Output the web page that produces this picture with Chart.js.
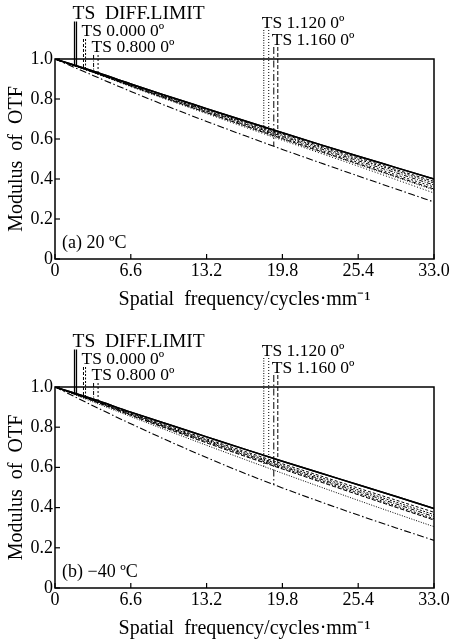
<!DOCTYPE html>
<html><head><meta charset="utf-8">
<script src="https://cdn.jsdelivr.net/npm/chart.js@4.4.1/dist/chart.umd.min.js"></script>
<style>
html,body{margin:0;padding:0;background:#fff;width:454px;height:639px;overflow:hidden}
#wa{position:absolute;left:0;top:0;width:454px;height:328px}
#wb{position:absolute;left:0;top:328px;width:454px;height:311px}
canvas{display:block}
</style></head><body>
<div id="wa"><canvas id="ca" width="454" height="328"></canvas></div>
<div id="wb"><canvas id="cb" width="454" height="311"></canvas></div>
<script>
// ---- data ----
const frequencies = [0, 3.3, 6.6, 9.9, 13.2, 16.5, 19.8, 23.1, 26.4, 29.7, 33];
const xTickValues = [0, 6.6, 13.2, 19.8, 26.4, 33];
const xTickLabels = ["0", "6.6", "13.2", "19.8", "25.4", "33.0"];
const yTickValues = [0, 0.2, 0.4, 0.6, 0.8, 1.0];
const yTickLabels = ["0", "0.2", "0.4", "0.6", "0.8", "1.0"];
const fieldLabels = ["TS  DIFF.LIMIT", "TS 0.000 0º", "TS 0.800 0º", "TS 1.120 0º", "TS 1.160 0º"];
const seriesNames = ["DIFF T", "DIFF S", "0.000 T", "0.000 S", "0.800 T", "0.800 S", "1.120 T", "1.120 S", "1.160 T", "1.160 S"];
const markerFreqs = [1.70, 1.87, 2.48, 2.66, 3.36, 3.75, 18.18, 18.61, 19.05, 19.40];
const panelA = "(a) 20 ºC";
const panelB = "(b) −40 ºC";

// (a) 20 ºC
const a_diffT = [1, 0.94, 0.875, 0.813, 0.752, 0.691, 0.631, 0.572, 0.514, 0.457, 0.40];
const a_diffS = [1, 0.94, 0.875, 0.813, 0.752, 0.691, 0.631, 0.572, 0.514, 0.457, 0.40];
const a_f0T   = [1, 0.938, 0.873, 0.81, 0.748, 0.686, 0.625, 0.565, 0.506, 0.447, 0.388];
const a_f0S   = [1, 0.937, 0.871, 0.807, 0.744, 0.681, 0.619, 0.559, 0.499, 0.44, 0.38];
const a_f08T  = [1, 0.936, 0.869, 0.804, 0.74, 0.676, 0.613, 0.552, 0.491, 0.431, 0.37];
const a_f08S  = [1, 0.935, 0.867, 0.801, 0.736, 0.671, 0.607, 0.545, 0.483, 0.421, 0.36];
const a_f112T = [1, 0.934, 0.864, 0.797, 0.731, 0.665, 0.6, 0.536, 0.473, 0.409, 0.345];
const a_f112S = [1, 0.933, 0.862, 0.794, 0.727, 0.66, 0.594, 0.529, 0.464, 0.397, 0.33];
const a_f116T = [1, 0.918, 0.838, 0.761, 0.688, 0.617, 0.548, 0.481, 0.415, 0.35, 0.285];
const a_f116S = [1, 0.934, 0.865, 0.798, 0.732, 0.667, 0.602, 0.539, 0.476, 0.413, 0.35];

// (b) -40 ºC
const b_diffT = [1, 0.94, 0.875, 0.813, 0.752, 0.691, 0.631, 0.572, 0.514, 0.455, 0.395];
const b_diffS = [1, 0.94, 0.875, 0.813, 0.752, 0.691, 0.631, 0.572, 0.514, 0.455, 0.395];
const b_f0T   = [1, 0.937, 0.87, 0.805, 0.742, 0.68, 0.618, 0.558, 0.497, 0.437, 0.377];
const b_f0S   = [1, 0.935, 0.868, 0.80, 0.737, 0.673, 0.61, 0.55, 0.488, 0.427, 0.365];
const b_f08T  = [1, 0.934, 0.865, 0.797, 0.732, 0.667, 0.604, 0.542, 0.48, 0.418, 0.355];
const b_f08S  = [1, 0.933, 0.862, 0.794, 0.728, 0.662, 0.598, 0.536, 0.472, 0.409, 0.345];
const b_f112T = [1, 0.926, 0.853, 0.781, 0.71, 0.64, 0.571, 0.503, 0.436, 0.37, 0.305];
const b_f112S = [1, 0.932, 0.86, 0.791, 0.724, 0.658, 0.594, 0.531, 0.467, 0.404, 0.34];
const b_f116T = [1, 0.907, 0.817, 0.731, 0.649, 0.571, 0.498, 0.429, 0.363, 0.299, 0.237];
const b_f116S = [1, 0.931, 0.859, 0.79, 0.722, 0.656, 0.592, 0.528, 0.464, 0.401, 0.338];

// ---- styles ----
const lineStyles = [
  {dash: [], w: 1.5}, {dash: [], w: 1.5},
  {dash: [3, 2], w: 1}, {dash: [2, 1.5], w: 1},
  {dash: [4, 1.5, 1, 1.5], w: 1}, {dash: [2, 2], w: 1},
  {dash: [1, 1.5], w: 1}, {dash: [1, 2], w: 1},
  {dash: [7, 2.5, 1.5, 2.5], w: 1.1}, {dash: [4, 2], w: 1}
];
const legendBaseline = [19, 36, 51.5, 27.5, 45];
const legendLineTop = [21.5, 39, 55, 30, 47];
const legendFontSize = [19.5, 17.5, 17.5, 17.5, 17.5];
const SERIF = "'Liberation Serif', 'Times New Roman', serif";

function interp(arr, f) {
  for (let i = 0; i < frequencies.length - 1; i++) {
    if (f >= frequencies[i] && f <= frequencies[i + 1]) {
      const t = (f - frequencies[i]) / (frequencies[i + 1] - frequencies[i]);
      return arr[i] + t * (arr[i + 1] - arr[i]);
    }
  }
  return arr[arr.length - 1];
}

const otfPlugin = {
  id: 'otf',
  afterDraw(chart, args, opts) {
    const ctx = chart.ctx, ca = chart.chartArea, xs = chart.scales.x, ys = chart.scales.y;
    ctx.save();
    ctx.strokeStyle = '#000';
    ctx.fillStyle = '#000';
    ctx.lineWidth = 1.2;
    xTickValues.forEach(v => {
      const px = xs.getPixelForValue(v);
      ctx.beginPath(); ctx.moveTo(px, ca.bottom); ctx.lineTo(px, ca.bottom - 5); ctx.stroke();
    });
    yTickValues.forEach(v => {
      const py = ys.getPixelForValue(v);
      ctx.beginPath(); ctx.moveTo(ca.left, py); ctx.lineTo(ca.left + 5, py); ctx.stroke();
    });
    ctx.lineWidth = 1.5;
    ctx.strokeRect(ca.left, ca.top, ca.right - ca.left, ca.bottom - ca.top);
    // legend marker lines
    chart.data.datasets.forEach((ds, i) => {
      const f = markerFreqs[i];
      const px = xs.getPixelForValue(f);
      const py = ys.getPixelForValue(interp(opts.series[i], f));
      const field = Math.floor(i / 2);
      ctx.setLineDash(lineStyles[i].dash);
      ctx.lineWidth = field === 0 ? 1.3 : 1;
      ctx.beginPath(); ctx.moveTo(px, legendLineTop[field]); ctx.lineTo(px, py); ctx.stroke();
    });
    ctx.setLineDash([]);
    ctx.textBaseline = 'alphabetic';
    ctx.textAlign = 'left';
    fieldLabels.forEach((t, k) => {
      ctx.font = legendFontSize[k] + 'px ' + SERIF;
      ctx.fillText(t, xs.getPixelForValue(markerFreqs[2 * k]) - 2, legendBaseline[k]);
    });
    ctx.font = '18px ' + SERIF;
    ctx.fillText(opts.panel, ca.left + 7, ca.bottom - 11.5);
    ctx.restore();
  }
};

function makeChart(id, series, panel, xHeight, xTitlePad) {
  const datasets = series.map((arr, i) => ({
    label: seriesNames[i],
    data: frequencies.map((f, j) => ({x: f, y: arr[j]})),
    borderColor: '#000',
    borderWidth: lineStyles[i].w,
    borderDash: lineStyles[i].dash,
    pointRadius: 0,
    fill: false,
    cubicInterpolationMode: 'monotone'
  }));
  return new Chart(document.getElementById(id), {
    type: 'line',
    data: {datasets},
    plugins: [otfPlugin],
    options: {
      responsive: false,
      animation: false,
      events: [],
      layout: {padding: {top: 59, right: 20, left: 0, bottom: 0}},
      plugins: {
        legend: {display: false},
        tooltip: {enabled: false},
        otf: {series, panel}
      },
      scales: {
        x: {
          type: 'linear', min: 0, max: 33,
          grid: {display: false, drawTicks: false}, border: {display: false},
          afterBuildTicks: s => { s.ticks = xTickValues.map(v => ({value: v})); },
          afterFit: s => { s.height = xHeight; },
          ticks: {
            autoSkip: false, maxRotation: 0, padding: 1, color: '#000',
            font: {family: SERIF, size: 18},
            callback: (v, i) => xTickLabels[i]
          },
          title: {
            display: true, text: 'Spatial  frequency/cycles·mm⁻¹', color: '#000',
            font: {family: SERIF, size: 20}, padding: {top: 0, bottom: xTitlePad}
          }
        },
        y: {
          type: 'linear', min: 0, max: 1,
          grid: {display: false, drawTicks: false}, border: {display: false},
          afterBuildTicks: s => { s.ticks = yTickValues.map(v => ({value: v})); },
          afterFit: s => { s.width = 55; },
          ticks: {
            padding: 2, color: '#000',
            font: {family: SERIF, size: 18},
            callback: (v, i) => yTickLabels[i]
          },
          title: {
            display: true, text: 'Modulus  of  OTF', color: '#000',
            font: {family: SERIF, size: 20}, padding: {top: 4.5, bottom: 0}
          }
        }
      }
    }
  });
}

makeChart('ca', [a_diffT, a_diffS, a_f0T, a_f0S, a_f08T, a_f08S, a_f112T, a_f112S, a_f116T, a_f116S], panelA, 69, 16);
makeChart('cb', [b_diffT, b_diffS, b_f0T, b_f0S, b_f08T, b_f08S, b_f112T, b_f112S, b_f116T, b_f116S], panelB, 51, -2);
</script>
</body></html>
